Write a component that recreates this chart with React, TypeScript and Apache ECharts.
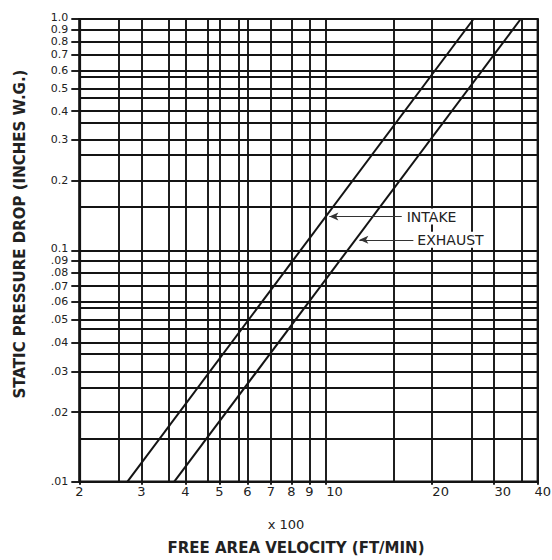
import React, { useEffect, useRef } from 'react';
import * as echarts from 'echarts';

// Velocity axis (x 100 ft/min)
const xMajorTicks = [2, 3, 4, 5, 6, 7, 8, 9, 10, 20, 30, 40];
const xTickLabels = ['2', '3', '4', '5', '6', '7', '8', '9', '10', '20', '30', '40'];
const xMinorLines = [2.58, 3.58, 4.63, 5.68, 15.6, 26, 36];

// Static pressure axis (inches w.g.)
const yMajorTicks = [0.01, 0.02, 0.03, 0.04, 0.05, 0.06, 0.07, 0.08, 0.09, 0.1, 0.2, 0.3, 0.4, 0.5, 0.6, 0.7, 0.8, 0.9, 1.0];
const yTickLabels = ['.01', '.02', '.03', '.04', '.05', '.06', '.07', '.08', '.09', '0.1', '0.2', '0.3', '0.4', '0.5', '0.6', '0.7', '0.8', '0.9', '1.0'];
const yMinorLines = [0.0154, 0.0256, 0.0356, 0.0456, 0.0565, 0.154, 0.258, 0.356, 0.457, 0.563];

// Curves
const intakeLine = [[2.74, 0.01], [26.3, 1.0]];
const exhaustLine = [[3.72, 0.01], [35.8, 1.0]];

// Annotation arrows
const intakeArrow = [[10.25, 0.14], [16.45, 0.14]];
const exhaustArrow = [[12.47, 0.111], [17.75, 0.111]];

function nearestLabel(v: number, ticks: number[], labels: string[]): string {
  let best = 0;
  let bd = Infinity;
  for (let i = 0; i < ticks.length; i++) {
    const d = Math.abs(Math.log10(v) - Math.log10(ticks[i]));
    if (d < bd) { bd = d; best = i; }
  }
  return bd < 0.01 ? labels[best] : '';
}

const INK = '#141414';
const FONT = '"DejaVu Sans", "Liberation Sans", Arial, sans-serif';

export default function App() {
  const ref = useRef<HTMLDivElement>(null);

  useEffect(() => {
    if (!ref.current) return;
    const chart = echarts.init(ref.current, undefined, { renderer: 'svg' });
    const gridLine = { show: true, lineStyle: { color: INK, width: 1.9 } };
    const yl = { color: '#222', fontSize: 11, lineHeight: 10, fontFamily: FONT };
    // an empty trailing label keeps the crowded top labels (0.9 / 1.0) both visible
    const yLabelValues = [...yMajorTicks, 0.15];

    const option: any = {
      animation: false,
      backgroundColor: '#fff',
      grid: {
        left: 79.3, right: 14.3, top: 19, bottom: 78.3,
        containLabel: false,
        outerBoundsMode: 'none',
        show: true, borderColor: INK, borderWidth: 2.2, backgroundColor: 'transparent',
      },
      xAxis: [
        {
          type: 'log', logBase: 10, min: 2, max: 40, position: 'bottom',
          axisLine: { show: true, lineStyle: { color: INK, width: 2.2 } },
          axisTick: { show: true, customValues: xMajorTicks, length: 3, lineStyle: { color: INK, width: 1.9 } },
          axisLabel: {
            show: true, customValues: xMajorTicks, margin: 3,
            showMinLabel: true, showMaxLabel: true,
            color: '#222', fontSize: 13, fontFamily: FONT,
            formatter: (v: number) => {
              const s = nearestLabel(v, xMajorTicks, xTickLabels);
              if (s === '40') return `{e|${s}}`;
              return s.length > 1 ? `{w|${s}}` : `{c|${s}}`;
            },
            rich: {
              c: { color: '#222', fontSize: 13, fontFamily: FONT },
              w: { color: '#222', fontSize: 13, fontFamily: FONT, padding: [0, 0, 0, 18] },
              e: { color: '#222', fontSize: 13, fontFamily: FONT, padding: [0, 0, 0, 10] },
            },
          },
          splitLine: gridLine,
        },
        {
          type: 'log', logBase: 10, min: 2, max: 40, position: 'top',
          axisLine: { show: false },
          axisTick: { show: false, customValues: xMinorLines },
          axisLabel: { show: false, customValues: xMinorLines },
          splitLine: gridLine,
        },
      ],
      yAxis: [
        {
          type: 'log', logBase: 10, min: 0.01, max: 1, position: 'left',
          axisLine: { show: true, lineStyle: { color: INK, width: 2.2 } },
          axisTick: { show: true, customValues: yMajorTicks, length: 8, lineStyle: { color: INK, width: 1.9 } },
          axisLabel: {
            show: true, customValues: yLabelValues, margin: 11,
            ...yl,
            formatter: (v: number) => {
              const s = nearestLabel(v, yMajorTicks, yTickLabels);
              if (!s) return '';
              if (s === '1.0' || s === '0.1') return `{u|${s}}`;
              return `{n|${s}}`;
            },
            rich: {
              n: { ...yl },
              u: { ...yl, padding: [0, 0, 4, 0] },
            },
          },
          splitLine: gridLine,
        },
        {
          type: 'log', logBase: 10, min: 0.01, max: 1, position: 'right',
          axisLine: { show: false },
          axisTick: { show: false, customValues: yMinorLines },
          axisLabel: { show: false, customValues: yMinorLines },
          splitLine: gridLine,
        },
      ],
      series: [
        {
          name: 'INTAKE', type: 'line', xAxisIndex: 0, yAxisIndex: 0,
          data: intakeLine, showSymbol: false, symbol: 'none',
          lineStyle: { color: INK, width: 2 },
          markLine: {
            silent: true, symbol: ['arrow', 'none'], symbolSize: [6, 9],
            lineStyle: { color: '#333', width: 1, type: 'solid' },
            label: {
              show: true, position: 'end', distance: 3, formatter: 'INTAKE',
              color: '#222', fontSize: 14, fontFamily: FONT,
              backgroundColor: '#fff', padding: [1, 2],
            },
            data: [[{ coord: intakeArrow[0] }, { coord: intakeArrow[1] }]],
          },
        },
        {
          name: 'EXHAUST', type: 'line', xAxisIndex: 0, yAxisIndex: 0,
          data: exhaustLine, showSymbol: false, symbol: 'none',
          lineStyle: { color: INK, width: 2 },
          markLine: {
            silent: true, symbol: ['arrow', 'none'], symbolSize: [6, 9],
            lineStyle: { color: '#333', width: 1, type: 'solid' },
            label: {
              show: true, position: 'end', distance: 2, formatter: 'EXHAUST',
              color: '#222', fontSize: 14, fontFamily: FONT,
              backgroundColor: '#fff', padding: [1, 2],
            },
            data: [[{ coord: exhaustArrow[0] }, { coord: exhaustArrow[1] }]],
          },
        },
      ],
      graphic: [
        {
          type: 'text', x: 286, y: 524,
          style: { text: 'x 100', fill: '#222', font: `13px ${FONT}`, align: 'center', verticalAlign: 'middle' },
        },
        {
          type: 'text', x: 296, y: 548,
          style: { text: 'FREE AREA VELOCITY (FT/MIN)', fill: '#222', font: `bold 15px ${FONT}`, align: 'center', verticalAlign: 'middle' },
        },
        {
          type: 'text', x: 20, y: 234, rotation: Math.PI / 2,
          style: { text: 'STATIC PRESSURE DROP (INCHES W.G.)', fill: '#222', font: `bold 15px ${FONT}`, align: 'center', verticalAlign: 'middle' },
        },
      ],
    };

    chart.setOption(option);
    return () => chart.dispose();
  }, []);

  return (
    <div
      ref={ref}
      style={{ position: 'fixed', left: 0, top: 0, width: 552, height: 560, background: '#fff' }}
    />
  );
}
